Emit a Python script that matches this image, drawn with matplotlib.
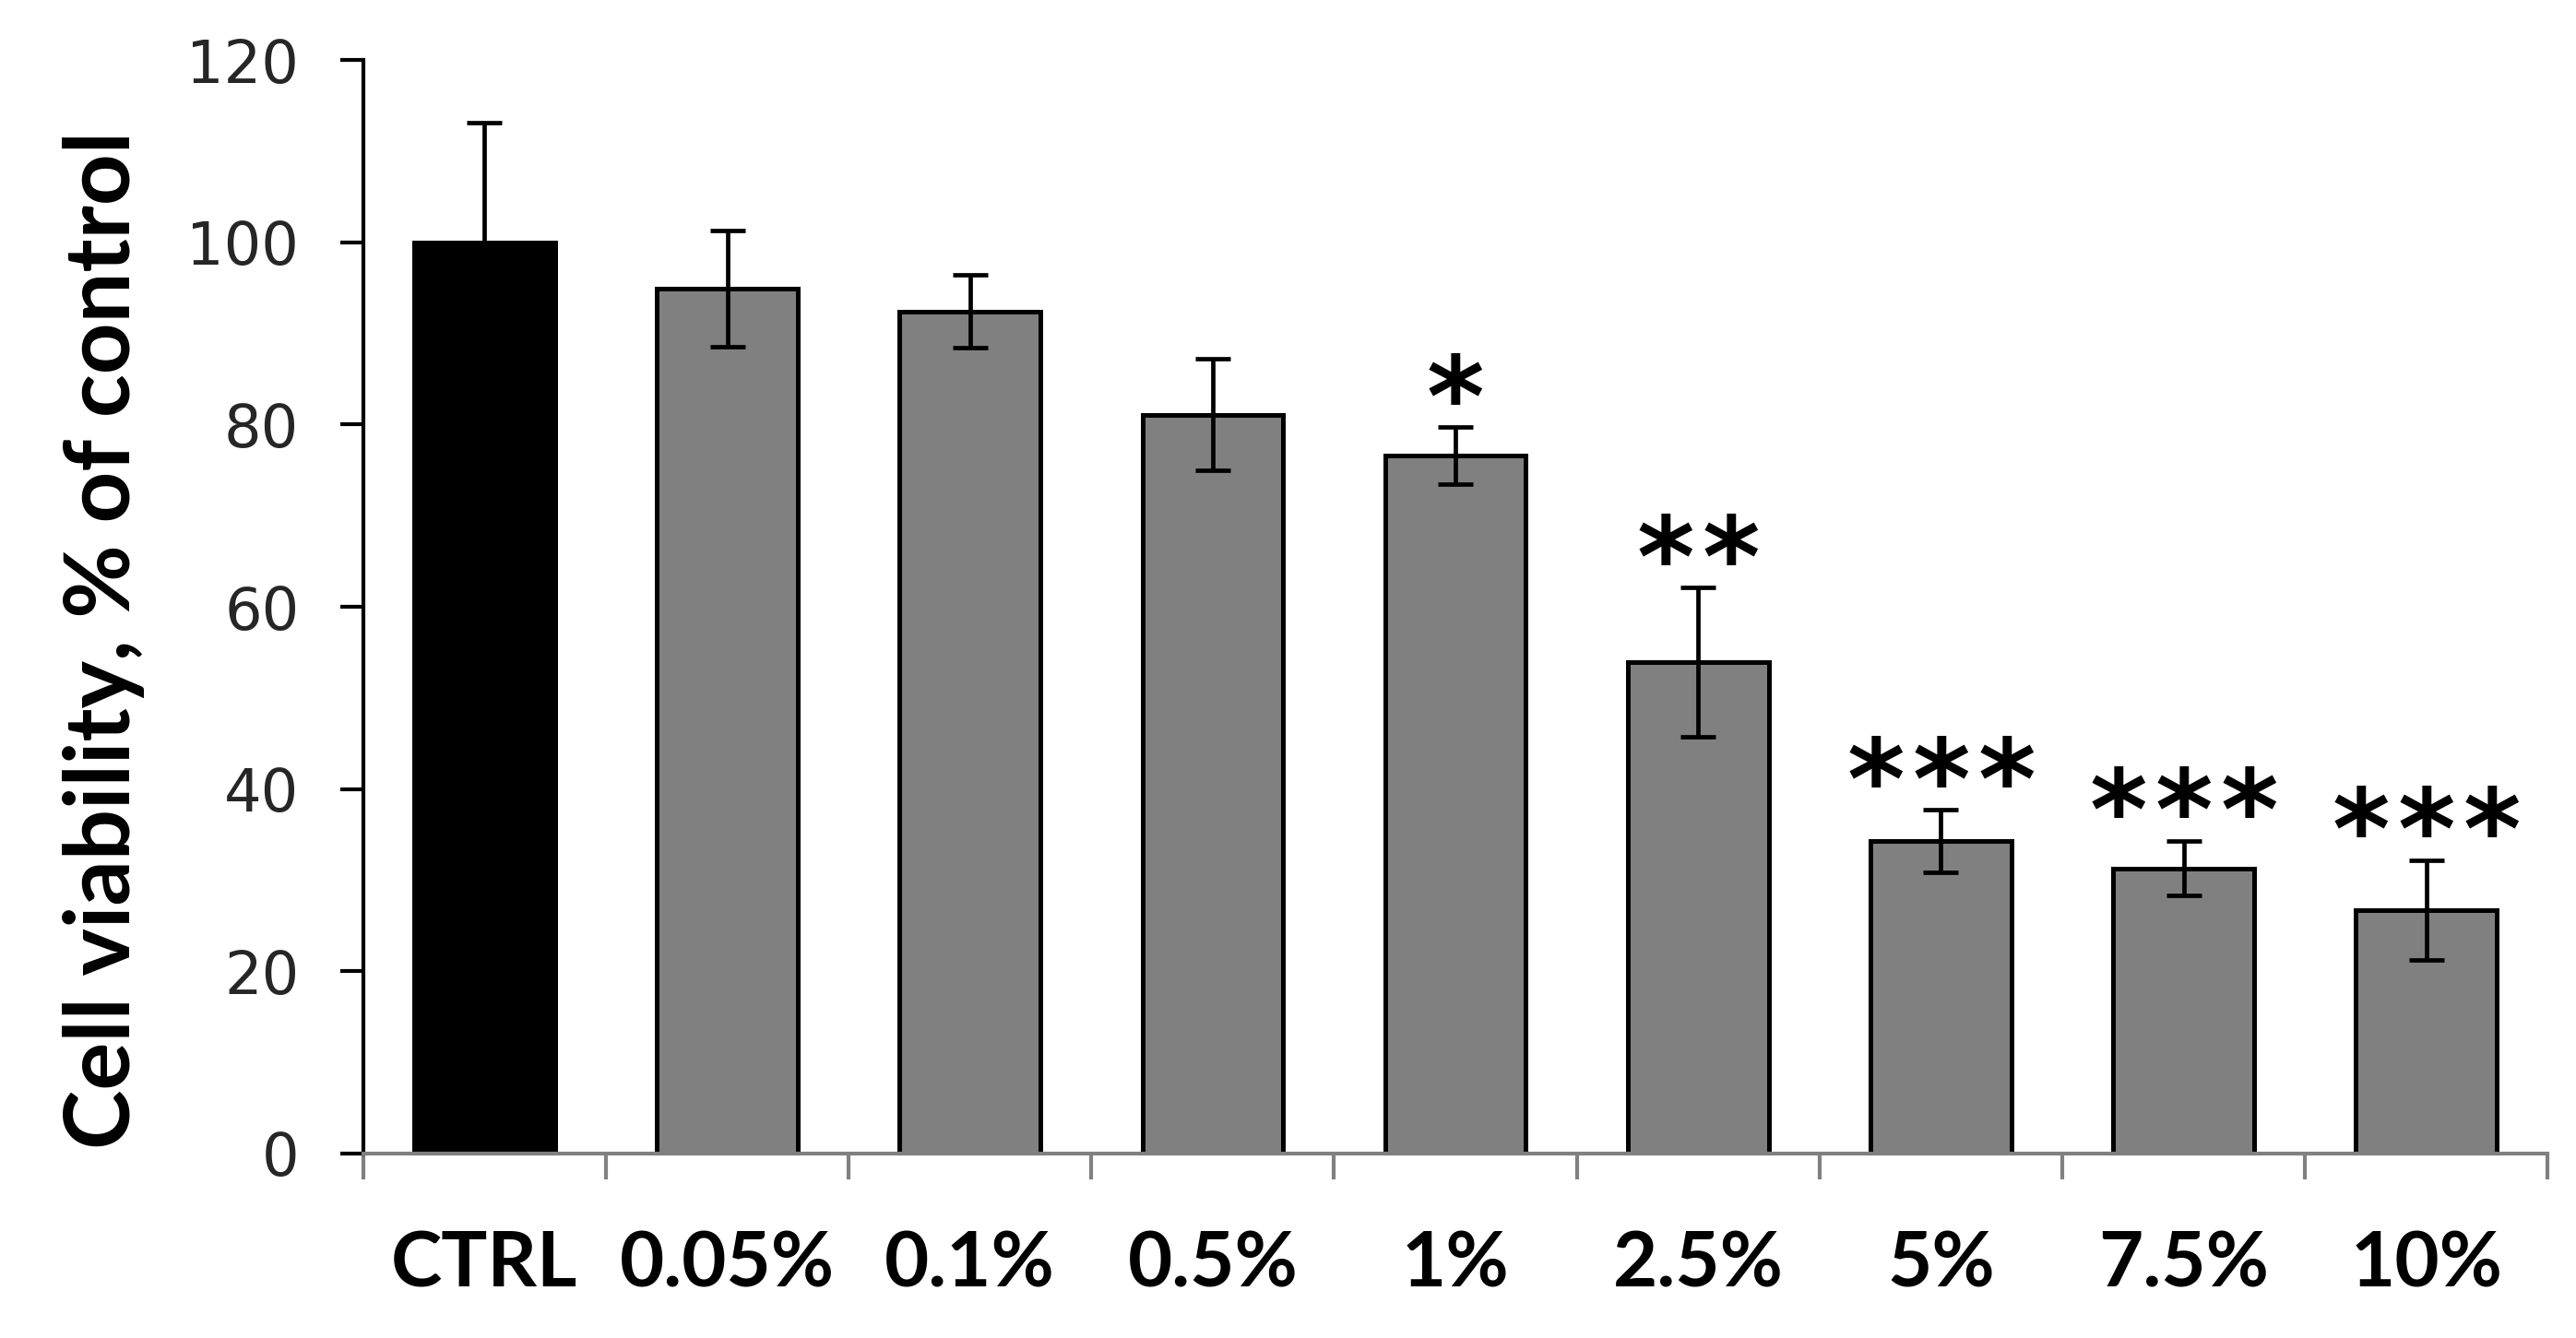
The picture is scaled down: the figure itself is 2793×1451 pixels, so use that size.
import numpy as np
import matplotlib
matplotlib.use("Agg")
import matplotlib.pyplot as plt

# data
groups = ["CTRL", "0.05%", "0.1%", "0.5%", "1%", "2.5%", "5%", "7.5%", "10%"]
viability = [100, 94.9, 92.4, 81.1, 76.6, 53.9, 34.3, 31.3, 26.7]
sd = [13.1, 6.4, 4.0, 6.1, 3.1, 8.2, 3.4, 3.0, 5.5]
stars = ["", "", "", "", "*", "**", "***", "***", "***"]

colors = ["black"] + ["#808080"] * (len(groups) - 1)

fig = plt.figure(figsize=(13.965, 7.255), dpi=200)
ax = fig.add_axes([0.141, 0.138, 0.848, 0.817])

x = np.arange(len(groups))
ax.bar(x, viability, width=0.58, color=colors, edgecolor="black", linewidth=1.8, zorder=2)
ax.errorbar(x, viability, yerr=sd, fmt="none", ecolor="black", elinewidth=1.7,
            capsize=7, capthick=1.7, zorder=3)

# significance marks above the error bars, each asterisk placed separately for spacing
for xi, v, e, s in zip(x, viability, sd, stars):
    n = len(s)
    for k in range(n):
        ax.text(xi + (k - (n - 1) / 2) * 0.27, v + e + 2.5, "*", ha="center", va="center",
                fontsize=43, fontweight="bold", family="DejaVu Sans")

ax.set_xlim(-0.5, len(groups) - 0.5)
ax.set_ylim(0, 120)
ax.set_yticks(range(0, 121, 20))

ax.spines["top"].set_visible(False)
ax.spines["right"].set_visible(False)
ax.spines["left"].set_linewidth(1.5)
ax.spines["bottom"].set_color("#808080")
ax.spines["bottom"].set_linewidth(1.5)

ax.tick_params(axis="y", direction="out", length=9, width=1.5, pad=16,
               labelsize=23, labelcolor="#262626")
for t in ax.get_yticklabels():
    t.set_family("DejaVu Sans")

ax.set_xticks(x)
ax.set_xticklabels(groups, fontsize=30, fontweight="bold", family="Lato")
ax.tick_params(axis="x", which="major", length=0, pad=30)
ax.set_xticks(np.arange(-0.5, len(groups)), minor=True)
ax.tick_params(axis="x", which="minor", direction="out", length=10, width=1.5, color="#808080")

ax.set_ylabel("Cell viability, % of control", fontsize=35, fontweight="bold", family="Lato")
ax.yaxis.set_label_coords(-0.1, 0.47)

plt.savefig("out.png", dpi=200)
